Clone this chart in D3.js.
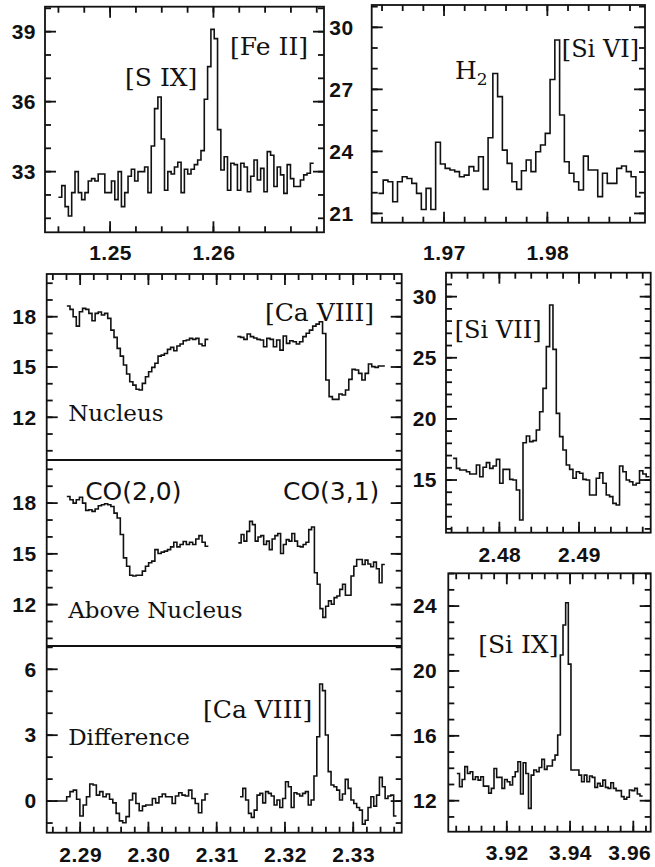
<!DOCTYPE html>
<html>
<head>
<meta charset="utf-8">
<script src="https://cdn.jsdelivr.net/npm/d3@7/dist/d3.min.js"></script>
<style>
  body { margin: 0; background: #fff; }
  svg { display: block; }
  .tick text { font-family: 'Liberation Sans', Arial, sans-serif; font-size: 21px; font-weight: bold; fill: #111; letter-spacing: 0.5px; }
  .frame { fill: none; stroke: #111; stroke-width: 1.8; }
  .divider { stroke: #111; stroke-width: 1.8; }
  .spec { fill: none; stroke: #111; stroke-width: 1.6; stroke-linejoin: miter; }
  .lbl { font-family: 'DejaVu Serif', serif; fill: #111; }
  .co { font-family: 'DejaVu Sans', sans-serif; fill: #111; }
</style>
</head>
<body>
<div id="chart-area"></div>
<script>
// ---- DATA ----
// J band: [S IX] + [Fe II]
const jRange = [1.2450, 1.2697]
const jFlux = [31.9, 32.4, 31.5, 31.1, 32.1, 33.0, 32.1, 31.8, 32.1, 32.6, 32.7, 32.6, 32.9, 32.9,
  32.1, 32.1, 32.6, 31.8, 33.0, 31.5, 32.1, 32.8, 33.1, 32.6, 33.0, 33.0, 33.2, 32.1, 34.1, 35.7,
  36.2, 34.4, 32.2, 33.0, 32.9, 33.2, 33.4, 32.1, 33.1, 32.9, 33.1, 33.3, 33.5, 33.9, 36.1, 37.5,
  39.1, 38.7, 34.8, 33.07, 33.64, 32.2, 33.36, 33.3, 32.2, 33.36, 33.2, 32.14, 32.8, 33.5, 32.64,
  33.14, 32.14, 33.86, 33.7, 32.36, 33.2, 32.86, 32.07, 33.3, 32.7, 32.36, 32.36, 32.64, 32.86,
  32.93, 33.36]
const jTicks = [1.25, 1.26]
const jFluxTicks = [33, 36, 39]

// H2 + [Si VI]
const h2Range = [1.96365, 1.98903]
const h2Flux = [21.97, 22.61, 22.53, 21.56, 22.53, 22.77, 22.69, 22.45, 21.97, 21.19, 22.21, 21.19,
  24.44, 23.39, 23.18, 23.1, 23.02, 22.77, 22.85, 23.26, 23.05, 23.74, 22.16, 24.66, 27.77, 26.65,
  24.06, 23.42, 22.53, 22.16, 23.06, 23.58, 23.02, 23.98, 24.31, 24.87, 27.48, 29.39, 25.76, 23.5,
  22.94, 22.53, 22.13, 23.77, 23.1, 23.1, 21.81, 22.94, 22.45, 22.45, 23.18, 23.29, 23.02, 22.77, 21.81]
const h2Ticks = [1.97, 1.98]
const h2FluxTicks = [21, 24, 27, 30]

// K band CO region: nucleus, above nucleus, difference (two segments each)
const coTicks = [2.29, 2.30, 2.31, 2.32, 2.33]
const nucFluxTicks = [12, 15, 18]
const diffFluxTicks = [0, 3, 6]

const nucRangeA = [2.28805, 2.30878]
const nucFluxA = [18.64, 18.44, 18.0, 17.44, 18.3, 18.5, 18.44, 18.2, 17.76, 18.2, 18.28, 18.1, 18.2,
  17.9, 17.2, 16.77, 16.11, 15.65, 15.12, 14.58, 14.12, 13.92, 13.67, 13.63, 14.02, 14.42, 14.72,
  14.98, 15.22, 15.65, 15.71, 15.81, 16.05, 16.17, 15.97, 16.25, 16.37, 16.57, 16.61, 16.71, 16.65,
  16.71, 16.37, 16.27, 16.65]
const nucRangeB = [2.31302, 2.33463]
const nucFluxB = [16.81, 16.77, 16.65, 16.97, 16.81, 16.73, 16.65, 16.61, 16.21, 16.71, 16.65, 16.21,
  16.61, 16.01, 16.85, 16.41, 16.57, 16.51, 16.37, 16.51, 16.81, 17.01, 17.2, 17.44, 17.56, 17.7, 17.0,
  14.22, 13.23, 13.07, 13.07, 13.39, 13.33, 13.63, 14.26, 14.86, 14.82, 14.62, 14.22, 14.62, 15.18,
  15.02, 14.98, 15.06, 15.06]

const aboveRangeA = [2.28805, 2.30878]
const aboveFluxA = [18.39, 18.2, 18.0, 18.2, 18.35, 18.0, 17.57, 17.61, 17.51, 17.65, 17.84, 17.9,
  17.96, 17.9, 17.8, 17.41, 17.12, 16.14, 14.76, 14.27, 13.73, 13.69, 13.73, 13.73, 13.98, 14.27,
  14.47, 14.57, 15.25, 15.02, 15.1, 15.16, 15.25, 15.41, 15.69, 15.41, 15.55, 15.73, 15.55, 15.69,
  15.55, 15.88, 16.08, 15.69, 15.45]
const aboveRangeB = [2.31317, 2.33463]
const aboveFluxB = [15.65, 16.14, 15.75, 16.33, 16.92, 16.73, 15.75, 16.0, 16.08, 15.55, 15.75, 15.25,
  15.88, 16.08, 16.2, 15.02, 15.55, 15.84, 15.75, 16.2, 15.75, 15.45, 15.41, 15.55, 15.69, 16.43,
  16.59, 13.88, 13.2, 11.76, 11.24, 11.9, 12.22, 12.02, 12.41, 12.51, 12.9, 13.2, 12.55, 12.55,
  13.69, 14.27, 14.67, 14.67, 14.37, 14.63, 14.4, 14.24, 14.51, 14.12, 13.29, 14.37]

const diffRangeA = [2.2861, 2.30878]
const diffFluxA = [0.0, 0.0, 0.0, 0.0, 0.2, 0.43, 0.5, 0.08, -0.68, -0.18, 0.2, 0.78, 0.73, 0.27,
  0.43, 0.2, 0.32, 0.08, -0.08, -0.56, -0.9, -0.99, -0.71, 0.05, 0.35, -0.11, -0.44, -0.23, -0.18,
  -0.18, 0.12, -0.08, 0.2, 0.32, 0.2, 0.2, -0.11, 0.23, 0.38, 0.27, 0.23, 0.5, 0.12, -0.11, -0.53,
  0.05, 0.32]
const diffRangeB = [2.31341, 2.33634]
const diffFluxB = [0.2, 0.58, 0.05, -0.56, -0.74, -0.41, 0.27, 0.35, -0.08, 0.43, 0.35, 0.23, -0.18,
  0.05, -0.29, 0.12, 0.88, 0.65, -0.29, 0.38, 0.32, 0.23, 0.35, 0.43, -0.18, 0.05, 1.14, 2.93, 5.33,
  5.03, 3.01, 1.34, 0.73, 0.65, 0.5, 0.05, 0.32, 0.99, 0.58, 0.05, -0.11, -0.29, -0.41, -1.05, -0.87,
  -0.29, 0.2, -0.23, 0.27, 1.08, 0.65, 0.12, 0.23, 0.27, -0.68]

// [Si VII]
const s7Range = [2.47419, 2.49885]
const s7Flux = [16.77, 15.95, 15.82, 15.82, 15.68, 15.49, 15.49, 16.23, 15.27, 16.04, 16.42, 15.95,
  16.15, 16.69, 14.73, 15.87, 15.87, 15.05, 15.0, 14.18, 11.73, 18.05, 18.6, 18.14, 18.22, 19.09,
  20.59, 22.5, 25.91, 29.32, 25.69, 20.45, 18.55, 17.45, 16.23, 15.87, 15.14, 15.68, 15.55, 15.05,
  15.0, 13.77, 13.77, 15.14, 15.6, 14.73, 13.77, 13.64, 13.09, 12.95, 16.15, 15.68, 15.0, 14.86,
  14.59, 14.73, 15.76, 15.49, 15.27]
const s7Ticks = [2.48, 2.49]
const s7FluxTicks = [15, 20, 25, 30]

// [Si IX]
const s9Range = [3.9042, 3.96295]
const s9Flux = [13.68, 12.86, 13.31, 14.1, 13.68, 13.79, 13.31, 13.48, 13.27, 13.48, 12.9, 12.9, 12.47,
  12.76, 13.99, 13.44, 13.44, 12.76, 13.31, 13.17, 12.97, 13.48, 13.79, 14.4, 12.41, 14.34, 13.68,
  11.53, 13.58, 13.89, 13.79, 14.05, 14.55, 13.93, 14.14, 14.14, 14.51, 14.81, 16.05, 20.98, 22.83,
  24.2, 20.42, 13.89, 13.89, 13.89, 13.58, 13.17, 13.58, 13.17, 13.52, 13.44, 12.82, 13.07, 12.9,
  13.27, 12.82, 12.76, 13.11, 12.76, 12.62, 12.62, 12.25, 12.1, 12.21, 12.66, 12.62, 12.76, 12.41, 12.29]
const s9Ticks = [3.92, 3.94, 3.96]
const s9FluxTicks = [12, 16, 20, 24]

// ---- SETUP ----
const svg = d3.select('#chart-area').append('svg')
  .attr('width', 655)
  .attr('height', 867)

const MAJOR = 11
const MINOR = 6

// regular grid of minor tick values inside a domain
function minorTicks(domain, step) {
  const lo = Math.min(...domain), hi = Math.max(...domain)
  const k0 = Math.ceil(lo / step - 1e-6), k1 = Math.floor(hi / step + 1e-6)
  return d3.range(k0, k1 + 1).map(k => +(k * step).toFixed(6))
}

// inward tick marks, drawn as plain lines from the scales
function marks(segs) {
  svg.selectAll(null).data(segs).enter().append('line')
    .attr('x1', d => d[0]).attr('y1', d => d[1])
    .attr('x2', d => d[2]).attr('y2', d => d[3])
    .attr('stroke', '#111').attr('stroke-width', 1.8)
}

// axis used only for the tick labels
function labelAxis(axis, tx, ty) {
  const g = svg.append('g').attr('transform', `translate(${tx}, ${ty})`).call(axis)
  g.select('.domain').remove()
  g.selectAll('.tick line').remove()
}

// frame with x ticks on top and bottom
function xFrame(x, top, bottom, majors, step, fmt, pad) {
  svg.append('rect').attr('class', 'frame')
    .attr('x', x.range()[0]).attr('y', top)
    .attr('width', x.range()[1] - x.range()[0]).attr('height', bottom - top)
  const segs = []
  minorTicks(x.domain(), step).forEach(v => {
    segs.push([x(v), bottom, x(v), bottom - MINOR], [x(v), top, x(v), top + MINOR])
  })
  majors.forEach(v => {
    segs.push([x(v), bottom, x(v), bottom - MAJOR], [x(v), top, x(v), top + MAJOR])
  })
  marks(segs)
  labelAxis(d3.axisBottom(x).tickValues(majors).tickSize(0).tickPadding(pad).tickFormat(fmt), 0, bottom)
}

// y ticks on left and right
function yTicks(x, y, majors, pad) {
  const [l, r] = x.range()
  const segs = []
  minorTicks(y.domain(), 1).forEach(v => {
    segs.push([l, y(v), l + MINOR, y(v)], [r, y(v), r - MINOR, y(v)])
  })
  majors.forEach(v => {
    segs.push([l, y(v), l + MAJOR, y(v)], [r, y(v), r - MAJOR, y(v)])
  })
  marks(segs)
  labelAxis(d3.axisLeft(y).tickValues(majors).tickSize(0).tickPadding(pad).tickFormat(d3.format('d')), l, 0)
}

// step spectrum: each value covers one bin of a regular grid
function spectrum(x, y, range, flux) {
  const w = (range[1] - range[0]) / flux.length
  const pts = flux.map((v, i) => [range[0] + i * w, v])
  pts.push([range[1], flux[flux.length - 1]])
  const line = d3.line().x(d => x(d[0])).y(d => y(d[1])).curve(d3.curveStepAfter)
  svg.append('path').attr('class', 'spec').attr('d', line(pts))
}

function label(x, y, xv, yv, txt, size, cls) {
  return svg.append('text').attr('class', cls || 'lbl')
    .attr('x', x(xv)).attr('y', y(yv))
    .attr('font-size', size + 'px')
    .text(txt)
}

const f2 = d3.format('.2f')

// ---- PANEL A: J band ----
const xA = d3.scaleLinear().domain([1.2437, 1.2707]).range([45, 324])
const yA = d3.scaleLinear().domain([30.40, 40.07]).range([232.3, 6.7])
xFrame(xA, 6.7, 232.3, jTicks, 0.0025, f2, 13)
yTicks(xA, yA, jFluxTicks, 9)
spectrum(xA, yA, jRange, jFlux)
label(xA, yA, 1.25145, 36.67, '[S IX]', 25)
label(xA, yA, 1.26161, 38.0, '[Fe II]', 25)

// ---- PANEL B: H2 / [Si VI] ----
const xB = d3.scaleLinear().domain([1.9630, 1.98945]).range([371.7, 645])
const yB = d3.scaleLinear().domain([20.55, 31.08]).range([222.7, 5])
xFrame(xB, 5, 222.7, h2Ticks, 0.002, f2, 22)
yTicks(xB, yB, h2FluxTicks, 18)
spectrum(xB, yB, h2Range, h2Flux)
const h2 = label(xB, yB, 1.97106, 27.5, 'H', 25)
h2.append('tspan').attr('font-size', '17px').attr('dy', 6).text('2')
label(xB, yB, 1.98140, 28.56, '[Si VI]', 24)

// ---- PANEL C: CO band heads ----
const xC = d3.scaleLinear().domain([2.2851, 2.3371]).range([46.7, 401.7])
const yC1 = d3.scaleLinear().domain([9.45, 20.55]).range([460, 274])
const yC2 = d3.scaleLinear().domain([9.55, 20.55]).range([646, 460])
const yC3 = d3.scaleLinear().domain([-1.44, 7.06]).range([832.7, 646])
xFrame(xC, 274, 832.7, coTicks, 0.002, f2, 14)
yTicks(xC, yC1, nucFluxTicks, 10)
yTicks(xC, yC2, nucFluxTicks, 10)
yTicks(xC, yC3, diffFluxTicks, 10)
;[460, 646].forEach(v => {
  svg.append('line').attr('class', 'divider')
    .attr('x1', xC.range()[0]).attr('x2', xC.range()[1])
    .attr('y1', v).attr('y2', v)
})
spectrum(xC, yC1, nucRangeA, nucFluxA)
spectrum(xC, yC1, nucRangeB, nucFluxB)
spectrum(xC, yC2, aboveRangeA, aboveFluxA)
spectrum(xC, yC2, aboveRangeB, aboveFluxB)
spectrum(xC, yC3, diffRangeA, diffFluxA)
spectrum(xC, yC3, diffRangeB, diffFluxB)
label(xC, yC1, 2.31707, 17.74, '[Ca VIII]', 25)
label(xC, yC1, 2.28824, 11.78, 'Nucleus', 23)
label(xC, yC2, 2.29073, 18.19, 'CO(2,0)', 25, 'co')
label(xC, yC2, 2.31971, 18.19, 'CO(3,1)', 25, 'co')
label(xC, yC2, 2.28824, 11.23, 'Above Nucleus', 23)
label(xC, yC3, 2.3080, 3.78, '[Ca VIII]', 25)
label(xC, yC3, 2.28824, 2.55, 'Difference', 23)

// ---- PANEL D: [Si VII] ----
const xD = d3.scaleLinear().domain([2.4733, 2.4990]).range([446, 650.7])
const yD = d3.scaleLinear().domain([10.69, 31.96]).range([532.7, 272.7])
xFrame(xD, 272.7, 532.7, s7Ticks, 0.002, f2, 14)
yTicks(xD, yD, s7FluxTicks, 9)
spectrum(xD, yD, s7Range, s7Flux)
label(xD, yD, 2.4744, 26.62, '[Si VII]', 24)

// ---- PANEL E: [Si IX] ----
const xE = d3.scaleLinear().domain([3.9015, 3.9655]).range([448.3, 650.7])
const yE = d3.scaleLinear().domain([10.09, 26.02]).range([831.7, 573.3])
xFrame(xE, 573.3, 831.7, s9Ticks, 0.004, f2, 13.5)
yTicks(xE, yE, s9FluxTicks, 11)
spectrum(xE, yE, s9Range, s9Flux)
label(xE, yE, 3.91094, 21.11, '[Si IX]', 25)
// keep the right-most tick label inside the window
svg.selectAll('.tick text').filter(d => d === 3.96).attr('dx', -4)
</script>
</body>
</html>
